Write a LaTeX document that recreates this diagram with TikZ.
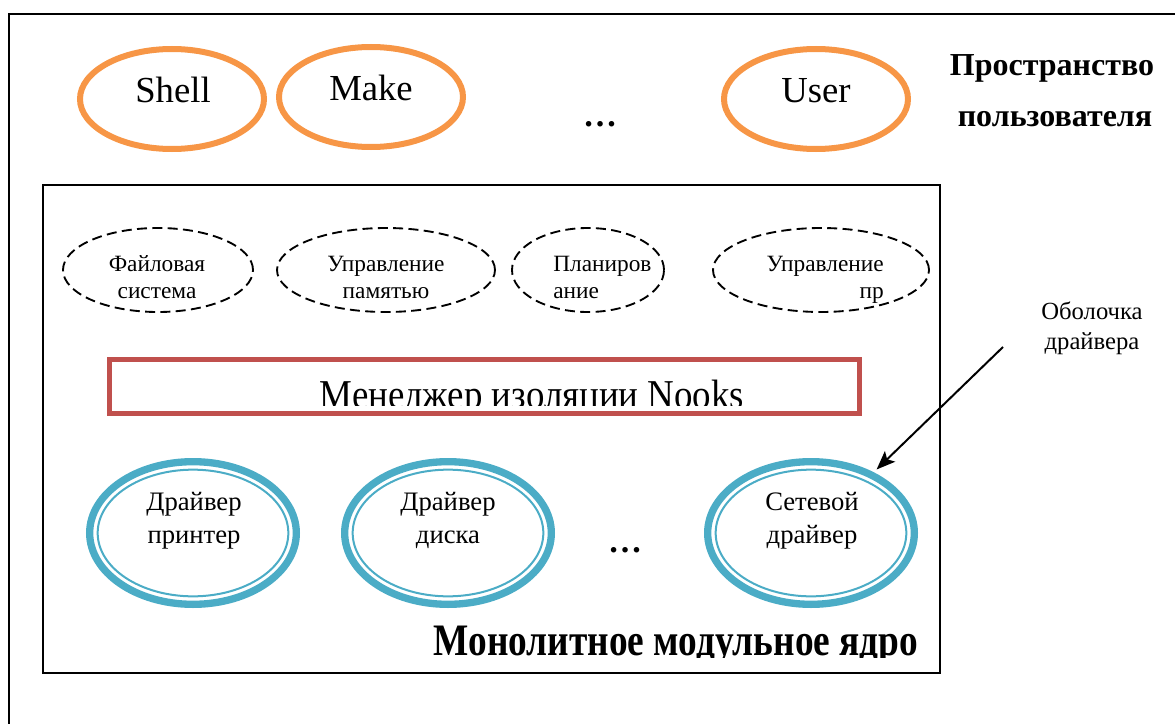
\documentclass[tikz,border=0pt]{standalone}
\usepackage{fontspec}
\setmainfont{Liberation Serif}
\usetikzlibrary{arrows.meta,shapes.geometric}

\definecolor{userorange}{HTML}{F79646}
\definecolor{drvblue}{HTML}{4BACC6}
\definecolor{nooksred}{HTML}{C0504D}

\tikzset{
  frame/.style={draw=black, line width=2pt},
  userproc/.style={ellipse, draw=userorange, line width=4.5pt, inner sep=0pt,
                   minimum width=138pt, minimum height=75pt},
  subsys/.style={ellipse, draw=black, line width=1.4pt, dash pattern=on 7.5pt off 4pt,
                 inner sep=0pt, minimum height=63pt},
  drvshell/.style={ellipse, draw=drvblue, line width=5.5pt, inner sep=0pt,
                   minimum width=155pt, minimum height=107pt},
  drvcore/.style={ellipse, draw=drvblue, line width=1.5pt, inner sep=0pt,
                  minimum width=143pt, minimum height=95pt},
  bigtxt/.style={font=\fontsize{27.5pt}{32pt}\selectfont, anchor=base, inner sep=0pt},
  smalltxt/.style={font=\fontsize{17.5pt}{20pt}\selectfont, anchor=base, inner sep=0pt},
  drvtxt/.style={font=\fontsize{20pt}{24pt}\selectfont, anchor=base, inner sep=0pt},
  notetxt/.style={font=\fontsize{18.5pt}{22pt}\selectfont, anchor=base, inner sep=0pt},
  headtxt/.style={font=\fontsize{24pt}{28pt}\selectfont\bfseries, anchor=base, inner sep=0pt},
}

\begin{document}
\begin{tikzpicture}[x=0.75pt, y=-0.75pt]
\useasboundingbox (0,0) rectangle (1175,724);

% outer frame of the whole system (runs past the page edge)
\begin{scope}
  \clip (0,0) rectangle (1175,724);
  \draw[frame, line width=2.2pt] (9,14) rectangle (1200,760);
\end{scope}

% ---- user space ----
\node[userproc] (shell) at (172,99) {};
\node[userproc] (make)  at (371,97) {};
\node[userproc] (user)  at (816,99) {};
\node[bigtxt] (shelltxt) at (173,103) {Shell};
\node[bigtxt] (maketxt)  at (371,101) {Make};
\node[bigtxt] (usertxt)  at (816,103) {User};
\node[bigtxt, font=\fontsize{25.5pt}{30pt}\selectfont\bfseries] (udots) at (600,127) {…};

\node[headtxt] (uspace1) at (1052,75)  {Пространство};
\node[headtxt] (uspace2) at (1055,127) {пользователя};

% ---- kernel ----
\draw[frame, line width=1.8pt] (43,185) rectangle (940,673);

\node[subsys, minimum width=142.5pt] (fs)    at (158,270) {};
\node[subsys, minimum width=163.5pt] (mem)   at (386,270) {};
\node[subsys, minimum width=114pt]   (sched) at (588,270) {};
\node[subsys, minimum width=162pt]   (proc)  at (821,270) {};

\node[smalltxt] (fs1)  at (157,271) {Файловая};
\node[smalltxt] (fs2)  at (157,298) {система};
\node[smalltxt] (mem1) at (386,271) {Управление};
\node[smalltxt] (mem2) at (386,298) {памятью};
\node[smalltxt, anchor=base west] (sch1) at (553,271) {Планиров};
\node[smalltxt, anchor=base west] (sch2) at (553,298) {ание};
\node[smalltxt, anchor=base east] (pr1) at (884,271) {Управление};
\node[smalltxt, anchor=base east] (pr2) at (884,298) {пр};

% isolation manager
\draw[draw=nooksred, line width=3.75pt] (109.5,359.5) rectangle (859.5,413.5);
\begin{scope}
  \clip (112,362) rectangle (857,405);
  \node[font=\fontsize{30.75pt}{36pt}\selectfont, anchor=base, inner sep=0pt] (nooks)
    at (532,408) {\scalebox{0.9}[1]{Менеджер изоляции Nooks}};
\end{scope}

% drivers
\node[drvshell] (prn) at (193,533) {};
\node[drvshell] (dsk) at (448,533) {};
\node[drvshell] (net) at (811,533) {};
\node[drvcore] (prnin) at (193,533) {};
\node[drvcore] (dskin) at (448,533) {};
\node[drvcore] (netin) at (811,533) {};

\node[drvtxt] (prn1) at (194,510) {Драйвер};
\node[drvtxt] (prn2) at (194,543) {принтер};
\node[drvtxt] (dsk1) at (448,510) {Драйвер};
\node[drvtxt] (dsk2) at (448,543) {диска};
\node[drvtxt] (net1) at (812,510) {Сетевой};
\node[drvtxt] (net2) at (812,543) {драйвер};
\node[bigtxt, font=\fontsize{25.5pt}{30pt}\selectfont\bfseries] (kdots) at (625,552) {…};

% kernel caption
\begin{scope}
  \clip (400,600) rectangle (935,657);
  \node[font=\fontsize{33.75pt}{40pt}\selectfont\bfseries, anchor=base, inner sep=0pt] (kernel)
    at (676,655) {\scalebox{0.83}[1]{Монолитное модульное ядро}};
\end{scope}

% driver wrapper note
\node[notetxt] (note1) at (1092,319) {Оболочка};
\node[notetxt] (note2) at (1092,349) {драйвера};
\coordinate (notefoot) at (1003,347);
\draw[line width=1.5pt, -{Stealth[length=14pt, width=11pt, inset=3pt]}, shorten >=3pt]
  (notefoot) -- (net);
\end{tikzpicture}
\end{document}
